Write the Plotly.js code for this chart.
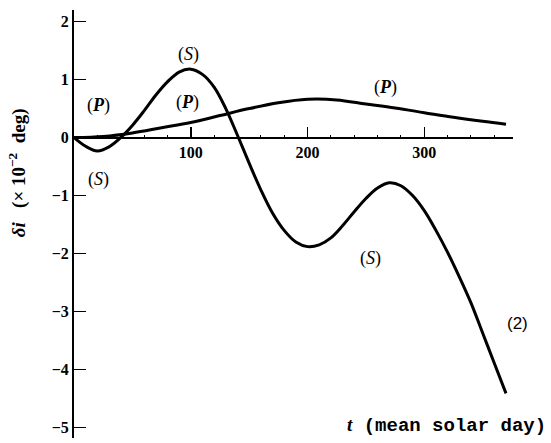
<!DOCTYPE html>
<html>
<head>
<meta charset="utf-8">
<script src="https://cdn.plot.ly/plotly-3.0.1.min.js"></script>
<style>html,body{margin:0;padding:0;background:#fff;}#chart{width:551px;height:443px;}</style>
</head>
<body>
<div id="chart"></div>
<script>
// Curve (S)
const tS = [0, 10, 20, 30, 40, 50, 60, 70, 80, 90, 100, 110, 120, 130, 140, 150, 160, 170, 180, 190, 200, 210, 220, 230, 240, 250, 260, 270, 280, 290, 300, 310, 320, 330, 340, 350, 360, 370];
const yS = [0, -0.15, -0.23, -0.16, 0.0, 0.21, 0.46, 0.73, 0.96, 1.13, 1.18, 1.09, 0.87, 0.5, 0.04, -0.44, -0.9, -1.3, -1.6, -1.8, -1.88, -1.85, -1.73, -1.52, -1.28, -1.05, -0.87, -0.78, -0.83, -1.0, -1.26, -1.6, -1.98, -2.4, -2.85, -3.37, -3.89, -4.41];
// Curve (P)
const tP = [0, 25, 50, 75, 100, 125, 150, 175, 200, 225, 250, 275, 300, 325, 350, 370];
const yP = [0, 0.02, 0.08, 0.17, 0.26, 0.38, 0.5, 0.6, 0.66, 0.65, 0.58, 0.51, 0.43, 0.35, 0.28, 0.23];
// Axis ticks
const xTicks = [100, 200, 300];
const yTicks = [2, 1, 0, -1, -2, -3, -4, -5];
// Curve labels
const labelText = ["(<b><i>P</i></b>)", "(<i>S</i>)", "(<i>S</i>)", "(<b><i>P</i></b>)", "(<b><i>P</i></b>)", "(<i>S</i>)"];
const labelX = [20.6, 20.6, 97.7, 96.8, 266.5, 253.6];
const labelY = [0.56, -0.73, 1.44, 0.61, 0.87, -2.08];

const serif = "Liberation Serif, Times New Roman, serif";
const line = {color: "#000", width: 3, shape: "spline", smoothing: 1};

const traces = [
  {x: tS, y: yS, type: "scatter", mode: "lines", line: line, name: "(S)", showlegend: false},
  {x: tP, y: yP, type: "scatter", mode: "lines", line: line, name: "(P)", showlegend: false}
];

const yMin = -5.18, yMax = 2.2;
const annotations = labelText.map((t, i) => ({
  x: labelX[i], y: labelY[i], xref: "x", yref: "y", text: t, showarrow: false,
  font: {family: serif, size: 18, color: "#000"}
}));
annotations.push({x: 1.011, y: (-3.2 - yMin) / (yMax - yMin), xref: "paper", yref: "paper", xanchor: "center", yanchor: "middle",
  text: "(2)", showarrow: false,
  font: {family: "Liberation Sans, Arial, sans-serif", size: 17, color: "#000"}});
annotations.push({x: 1.08, y: (-4.97 - yMin) / (yMax - yMin), xref: "paper", yref: "paper", xanchor: "right", yanchor: "middle", showarrow: false,
  text: "<span style='font-family:Liberation Serif'><b><i>t</i></b></span> (mean solar day)",
  font: {family: "Liberation Mono, Courier New, monospace", size: 19, color: "#000", weight: 700}});
annotations.push({x: -0.128, y: (-0.6 - yMin) / (yMax - yMin), xref: "paper", yref: "paper", xanchor: "center", yanchor: "middle",
  textangle: -90, showarrow: false,
  text: "<i>δi</i>   (× 10<sup>−2</sup>  deg)",
  font: {family: serif, size: 19, color: "#000", weight: 700}});

const layout = {
  width: 551, height: 443,
  margin: {l: 74, r: 38, t: 10, b: 5},
  paper_bgcolor: "#fff", plot_bgcolor: "#fff",
  showlegend: false,
  xaxis: {
    range: [0, 376], anchor: "free", position: (0 - yMin) / (yMax - yMin),
    showline: true, linecolor: "#000", linewidth: 2,
    ticks: "inside", ticklen: 10, tickwidth: 1.5, tickcolor: "#000",
    tickmode: "array", tickvals: xTicks,
    minor: {ticks: "inside", ticklen: 2, dtick: 20, tickcolor: "#000", tickwidth: 1},
    showgrid: false, zeroline: false,
    tickfont: {family: serif, size: 16, color: "#000", weight: 700}
  },
  yaxis: {
    range: [yMin, yMax],
    showline: true, linecolor: "#000", linewidth: 2,
    ticks: "inside", ticklen: 12, tickwidth: 1.5, tickcolor: "#000",
    tickmode: "array", tickvals: yTicks,
    showgrid: false, zeroline: false,
    tickfont: {family: serif, size: 16, color: "#000", weight: 700}
  },
  annotations: annotations
};

Plotly.newPlot("chart", traces, layout, {displayModeBar: false, staticPlot: true});
</script>
</body>
</html>
